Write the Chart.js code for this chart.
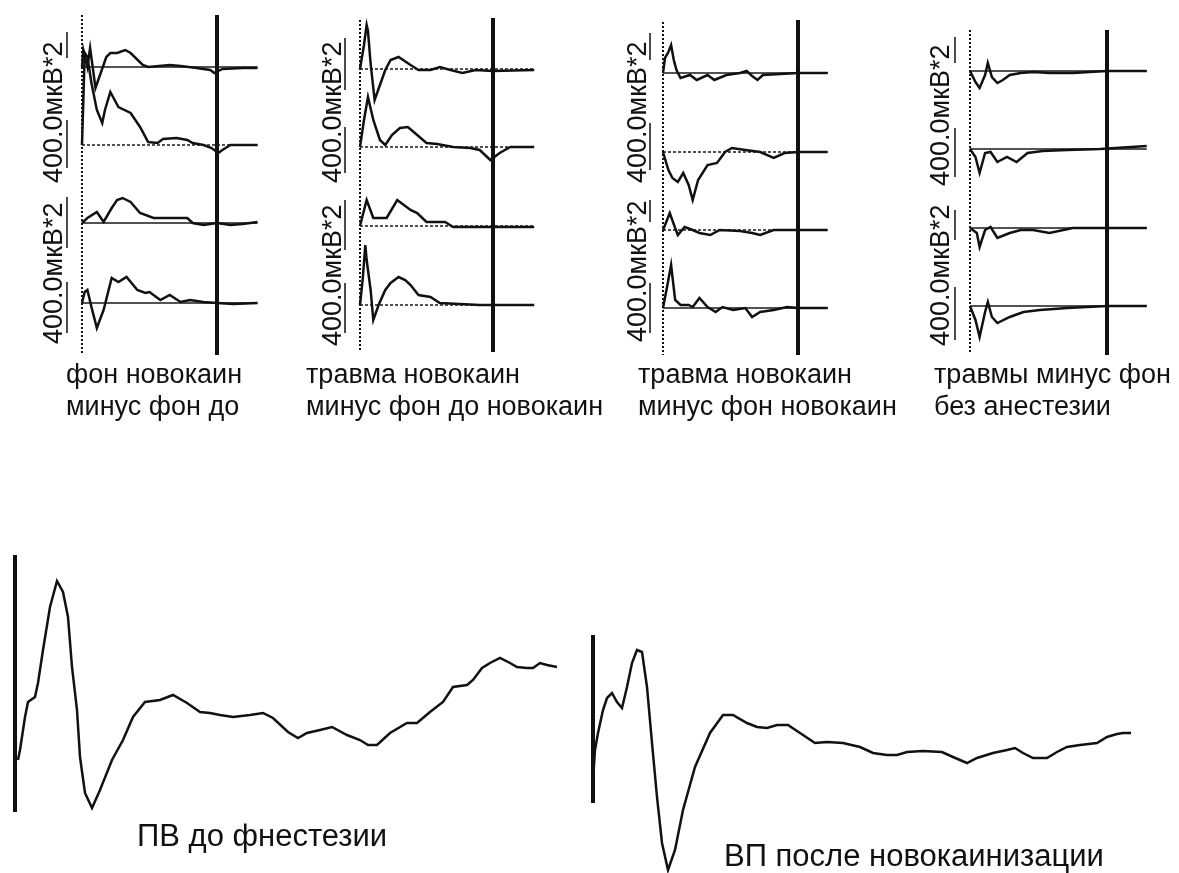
<!DOCTYPE html>
<html lang="ru">
<head>
<meta charset="UTF-8">
<title>ВП до и после новокаина</title>
<script src="https://cdn.jsdelivr.net/npm/chart.js"></script>
<style>
  body { margin: 0; background: #fff; width: 1179px; height: 873px; position: relative; overflow: hidden;
         font-family: "Liberation Sans", Arial, sans-serif; color: #111; }
  canvas { position: absolute; }
  .cap { position: absolute; font-size: 27px; line-height: 32px; white-space: nowrap; }
  .big { position: absolute; font-size: 31px; line-height: 31px; white-space: nowrap; }
  .unit { position: absolute; font-size: 27px; line-height: 27px; white-space: nowrap;
          transform-origin: 0 0; transform: rotate(-90deg); }
</style>
</head>
<body>
<canvas id="p1" width="230" height="350"></canvas>
<canvas id="p2" width="230" height="350"></canvas>
<canvas id="p3" width="230" height="350"></canvas>
<canvas id="p4" width="230" height="350"></canvas>
<canvas id="b1" width="580" height="290"></canvas>
<canvas id="b2" width="570" height="263"></canvas>

<div class="unit" style="left:40px;top:183px">400.0мкВ*2</div>
<div class="unit" style="left:40px;top:344px">400.0мкВ*2</div>
<div class="unit" style="left:319px;top:183px">400.0мкВ*2</div>
<div class="unit" style="left:319px;top:346px">400.0мкВ*2</div>
<div class="unit" style="left:624px;top:183px">400.0мкВ*2</div>
<div class="unit" style="left:624px;top:342px">400.0мкВ*2</div>
<div class="unit" style="left:927px;top:186px">400.0мкВ*2</div>
<div class="unit" style="left:927px;top:346px">400.0мкВ*2</div>

<div class="cap" style="left:66px;top:358px">фон новокаин<br>минус фон до</div>
<div class="cap" style="left:306px;top:358px">травма новокаин<br>минус фон до новокаин</div>
<div class="cap" style="left:638px;top:358px">травма новокаин<br>минус фон новокаин</div>
<div class="cap" style="left:934px;top:358px">травмы минус фон<br>без анестезии</div>

<div class="big" style="left:137px;top:820px">ПВ до фнестезии</div>
<div class="big" style="left:724px;top:840px">ВП после новокаинизации</div>

<script>
// усреднённые ответы, [время мс, амплитуда отн. ед.]
// фон новокаин минус фон до
const fonT1 = [[0,0],[1,17],[4,0],[6,19],[10,-21],[18,10],[21,14],[26,14],[32,17],[36,14],[45,2],[49,0],[65,2],[73,1],[85,-1],[95,-3],[98,-6],[104,-2],[119,-1],[130,-1]];
const fonT2 = [[0,0],[1,45],[2,92],[4,88],[7,62],[11,35],[15,22],[17,35],[21,53],[23,48],[27,38],[36,32],[43,18],[49,3],[56,2],[60,6],[70,7],[78,5],[82,2],[90,0],[96,-3],[101,-8],[104,-5],[110,0],[130,0]];
const fonT3 = [[0,0],[4,5],[11,11],[16,1],[22,15],[26,23],[30,25],[36,21],[43,10],[53,5],[60,5],[78,5],[82,0],[90,-2],[100,0],[110,-2],[119,-1],[130,1]];
const fonT4 = [[0,0],[2,11],[4,13],[7,-4],[11,-25],[16,-7],[22,25],[27,21],[33,26],[41,13],[47,10],[50,11],[58,3],[65,8],[73,1],[80,3],[90,1],[100,0],[112,-1],[130,0]];

// травма новокаин минус фон до новокаин
const trDoT1 = [[0,0],[3,24],[5,44],[6,38],[8,5],[11,-31],[15,-16],[19,-1],[23,9],[29,12],[38,4],[44,-1],[53,-1],[60,2],[68,-1],[77,-4],[87,-1],[100,-2],[131,-1]];
const trDoT2 = [[0,0],[3,27],[6,50],[10,27],[15,7],[19,2],[24,12],[30,19],[36,20],[43,12],[50,4],[58,3],[70,0],[83,-1],[90,-3],[98,-13],[105,-6],[113,0],[131,0]];
const trDoT3 = [[0,0],[5,26],[10,8],[15,8],[20,8],[28,26],[30,24],[38,16],[43,13],[50,4],[64,4],[70,-1],[131,-1]];
const trDoT4 = [[0,0],[2,25],[4,60],[5,45],[8,15],[10,-15],[14,0],[19,15],[23,22],[29,28],[34,25],[38,20],[44,10],[53,8],[60,2],[90,0],[131,0]];

// травма новокаин минус фон новокаин
const trNovT1 = [[0,0],[1.5,15],[4,21],[6,28],[8,13],[10,3],[13,-5],[20,-2],[25,-7],[33,-2],[38,-7],[47,-2],[57,0],[62,2],[66,-3],[70,-7],[74,-2],[100,0],[122,0]];
const trNovT2 = [[0,0],[4,-18],[7,-26],[11,-30],[15,-21],[19,-33],[22,-48],[26,-28],[33,-13],[40,-11],[46,0],[51,4],[61,2],[72,0],[82,-6],[90,-1],[100,0],[122,0]];
const trNovT3 = [[0,0],[3,10],[5,17],[9,2],[11,-5],[16,3],[22,0],[27,-3],[35,-5],[42,0],[57,-1],[66,-3],[72,-5],[82,0],[100,0],[122,0]];
const trNovT4 = [[0,0],[3,21],[6,43],[9,8],[13,3],[19,3],[22,1],[27,10],[33,1],[39,-4],[44,1],[52,-2],[61,0],[66,-9],[72,-4],[82,-2],[92,1],[100,0],[122,0]];

// травмы минус фон без анестезии
const bezAnT1 = [[0,0],[4,-11],[7,-17],[11,-4],[13,8],[16,-6],[20,-12],[24,-9],[29,-4],[37,-2],[46,-1],[58,-2],[75,-2],[100,0],[129,0]];
const bezAnT2 = [[0,0],[4,-8],[7,-24],[11,-4],[15,-3],[20,-13],[27,-8],[34,-13],[42,-4],[53,-2],[71,-1],[95,0],[129,3]];
const bezAnT3 = [[0,0],[5,-5],[7,-19],[11,-2],[15,1],[20,-10],[29,-5],[37,-2],[46,-2],[58,-5],[75,0],[95,0],[129,0]];
const bezAnT4 = [[0,0],[4,-14],[7,-31],[11,-6],[13,4],[16,-11],[20,-17],[29,-11],[39,-6],[51,-4],[71,-2],[100,0],[129,0]];

// ПВ до анестезии, [мс, мкВ]
const pvDo = [[1.5,-30],[2.5,-25],[5,-8.5],[6.5,-1],[10,1.5],[11.5,8.5],[14,25],[17.5,46.5],[21,59.5],[24,54],[26.5,41.5],[28.5,16.5],[31,-5],[32.5,-28.5],[35,-46.5],[38.5,-54],[42.5,-45],[48.5,-30],[54,-20],[59,-8.5],[65,-1],[72.5,0],[79,2.5],[86,-1.5],[92.5,-6],[97.5,-6.5],[102.5,-7.5],[109,-8.5],[117.5,-7.5],[124,-6.5],[129,-9],[136.5,-16],[141.5,-19],[146,-16.5],[152.5,-15],[158.5,-13.5],[166,-17.5],[172.5,-20],[176.5,-22.5],[181,-22.5],[187.5,-16.5],[196,-11.5],[201,-11.5],[207.5,-6],[214,-1],[219,6.5],[226,7.5],[229,10],[233.5,16],[237.5,18.5],[242.5,21],[247.5,18.5],[251,16.5],[256,16],[259,16],[262.5,18.5],[266,17.5],[271,16.5]];
// ВП после новокаинизации
const vpPosle = [[0,-15],[1,0],[2.5,8.5],[5,20],[7,26],[9.5,28.5],[12,24],[14.5,21],[17,31.5],[19.5,43.5],[22,50],[24.5,49],[27,31.5],[29.5,3.5],[32,-23.5],[34.5,-46.5],[37.5,-60],[41,-50],[45,-30],[51,-8.5],[58.5,8.5],[65,17.5],[70,17.5],[77,13.5],[82,11.5],[87,11],[92,12.5],[97.5,12.5],[103.5,8.5],[111,3.5],[117,4],[125,3.5],[133.5,1.5],[140,-1.5],[147,-2.5],[152,-2.5],[157,-1],[165,-0.5],[174.5,-1],[180,-3.5],[187,-6.5],[192,-4],[200,-1.5],[207,0],[211,1],[215,-1.5],[220,-4],[227,-4],[232,-1],[237,1.5],[243.5,2.5],[252,3.5],[257,6.5],[262,8],[265,8.5],[269,8.5]];
const pvBar = [72.5, -56];   // калибровка, мкВ
const vpBar = [57.5, -26.5];

// расположение панелей (пиксели страницы)
const panels = [
  { id: 'p1', traces: [fonT1, fonT2, fonT3, fonT4], dotted: 82, k: 1.35, end: 130,
    base: [67, 145, 223, 303], dash: [0, 1, 0, 0], dotLine: [15, 355], thick: [15, 355],
    barX: 67, bars: [[32, 58], [120, 168], [197, 248], [282, 333]] },
  { id: 'p2', traces: [trDoT1, trDoT2, trDoT3, trDoT4], dotted: 360, k: 1.33, end: 131,
    base: [69, 147, 226, 305], dash: [1, 1, 1, 1], dotLine: [20, 352], thick: [18, 352],
    barX: 345, bars: [[38, 90], [127, 173], [200, 250], [283, 333]] },
  { id: 'p3', traces: [trNovT1, trNovT2, trNovT3, trNovT4], dotted: 663, k: 1.35, end: 122,
    base: [73, 152, 230, 308], dash: [0, 1, 1, 0], dotLine: [22, 355], thick: [20, 355],
    barX: 650, bars: [[33, 60], [123, 170], [200, 222], [283, 333]] },
  { id: 'p4', traces: [bezAnT1, bezAnT2, bezAnT3, bezAnT4], dotted: 970, k: 1.37, end: 129,
    base: [71, 149, 228, 306], dash: [0, 0, 0, 0], dotLine: [30, 352], thick: [30, 355],
    barX: 955, bars: [[37, 63], [128, 177], [210, 240], [287, 340]] }
];

function seg(points, width, dash, color) {
  return { data: points, borderColor: color || '#111', borderWidth: width, borderDash: dash || [],
           pointRadius: 0, fill: false, tension: 0, borderCapStyle: 'butt' };
}

function baseOpts(xmin, xmax, ymin, ymax) {
  return {
    responsive: false, animation: false, events: [],
    plugins: { legend: { display: false }, tooltip: { enabled: false } },
    layout: { padding: 0 },
    scales: {
      x: { type: 'linear', display: false, min: xmin, max: xmax },
      y: { type: 'linear', display: false, min: ymin, max: ymax }
    }
  };
}

panels.forEach(p => {
  const cv = document.getElementById(p.id);
  cv.style.left = (p.dotted - 40) + 'px';
  cv.style.top = '10px';
  const yOf = px => 360 - px;
  const ds = [];
  p.traces.forEach((tr, i) => {
    const b = yOf(p.base[i]);
    ds.push(seg(tr.map(([t, a]) => ({ x: t, y: b + a })), 2.5));
    ds.push(seg([{ x: 0, y: b }, { x: p.end, y: b }], 1.3, p.dash[i] ? [3, 2] : [], '#1a1a1a'));
  });
  ds.push(seg([{ x: 0, y: yOf(p.dotLine[0]) }, { x: 0, y: yOf(p.dotLine[1]) }], 2, [2, 2]));
  ds.push(seg([{ x: 100, y: yOf(p.thick[0]) }, { x: 100, y: yOf(p.thick[1]) }], 4));
  const bx = (p.barX - p.dotted) / p.k;
  p.bars.forEach(([a, b]) => ds.push(seg([{ x: bx, y: yOf(a) }, { x: bx, y: yOf(b) }], 1.5)));
  new Chart(cv, { type: 'line', data: { datasets: ds }, options: baseOpts(-40 / p.k, 190 / p.k, 0, 350) });
});

// нижние кривые: 1 мс = 2 px, 1 мкВ = 2 px
const b1 = document.getElementById('b1');
b1.style.left = '0px'; b1.style.top = '540px';
new Chart(b1, {
  type: 'line',
  data: { datasets: [
    seg(pvDo.map(([t, a]) => ({ x: t, y: a })), 2.5),
    seg([{ x: 0, y: pvBar[0] }, { x: 0, y: pvBar[1] }], 4)
  ] },
  options: baseOpts(-7.5, 282.5, -65, 80)
});

const b2 = document.getElementById('b2');
b2.style.left = '580px'; b2.style.top = '610px';
new Chart(b2, {
  type: 'line',
  data: { datasets: [
    seg(vpPosle.map(([t, a]) => ({ x: t, y: a })), 2.5),
    seg([{ x: 0, y: vpBar[0] }, { x: 0, y: vpBar[1] }], 4)
  ] },
  options: baseOpts(-6.5, 278.5, -61.5, 70)
});
</script>
</body>
</html>
